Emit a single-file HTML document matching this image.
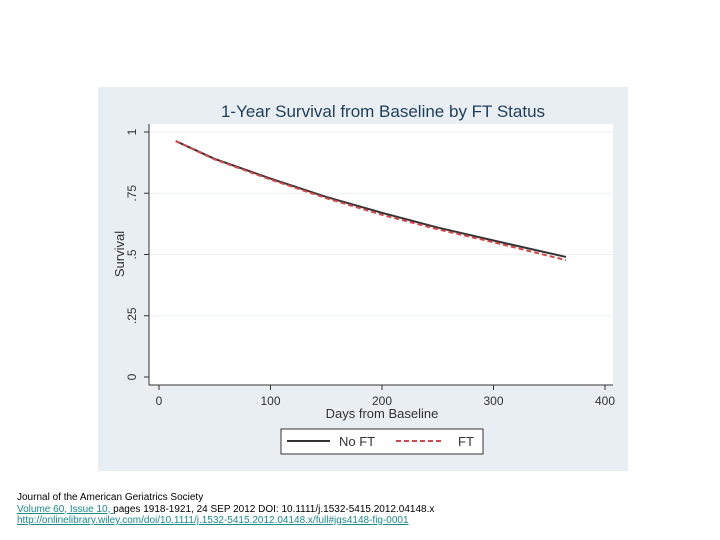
<!DOCTYPE html>
<html><head><meta charset="utf-8">
<style>
body{margin:0;width:720px;height:540px;background:#fff;font-family:"Liberation Sans",sans-serif;position:relative;overflow:hidden}
#cite{position:absolute;left:17px;top:492px;font-size:10px;line-height:11.5px;color:#000}
#cite a{color:#1a8a8a;text-decoration:underline}
</style></head><body>
<svg width="720" height="540" style="position:absolute;left:0;top:0">
<rect x="98" y="87" width="530" height="384" fill="#e9eef3"/>
<rect x="149" y="124" width="464" height="261" fill="#fff"/>
<text x="383" y="117" text-anchor="middle" font-size="17" fill="#1e3f5a">1-Year Survival from Baseline by FT Status</text>
<g id="grid"></g><g id="axes"></g><g id="series"></g>
<text x="124" y="254" transform="rotate(-90 124 254)" text-anchor="middle" font-size="13" fill="#333">Survival</text>
<text x="382" y="418" text-anchor="middle" font-size="13" fill="#333">Days from Baseline</text>
<g>
<rect x="281" y="429" width="202" height="25" fill="#fff" stroke="#333" stroke-width="1"/>
<line x1="287" y1="441" x2="330" y2="441" stroke="#333" stroke-width="2"/>
<text x="339" y="446" font-size="13" fill="#333">No FT</text>
<line x1="396" y1="441" x2="444" y2="441" stroke="#d9464a" stroke-width="2" stroke-dasharray="5,3"/>
<text x="458" y="446" font-size="13" fill="#333">FT</text>
</g>
</svg>
<div id="cite">Journal of the American Geriatrics Society<br><a>Volume 60, Issue 10, </a>pages 1918-1921, 24 SEP 2012 DOI: 10.1111/j.1532-5415.2012.04148.x<br><a>http://onlinelibrary.wiley.com/doi/10.1111/j.1532-5415.2012.04148.x/full#jgs4148-fig-0001</a></div>
<script>
const days=[15,50,100,150,200,250,300,365];
const noFT=[0.963,0.89,0.81,0.735,0.67,0.61,0.557,0.49];
const FT=[0.963,0.888,0.806,0.73,0.662,0.603,0.55,0.477];
const xTicks=[0,100,200,300,400];
const yTicks=[0,0.25,0.5,0.75,1];
const yLabels=["0",".25",".5",".75","1"];
const NS="http://www.w3.org/2000/svg";
const X=d=>159+d*(605-159)/400, Y=v=>377-v*245;
function mk(t,a,p){const e=document.createElementNS(NS,t);for(const k in a)e.setAttribute(k,a[k]);p.appendChild(e);return e;}
const grid=document.getElementById('grid'),axes=document.getElementById('axes'),ser=document.getElementById('series');
mk('line',{x1:149,y1:385,x2:613,y2:385,stroke:'#333'},axes);
mk('line',{x1:149,y1:124,x2:149,y2:385,stroke:'#333'},axes);
yTicks.forEach((v,i)=>{
 if(v>0){const g=mk('line',{x1:149,y1:Y(v),x2:613,y2:Y(v),stroke:'#eef2f5'},grid);
 
 }
 mk('line',{x1:144,y1:Y(v),x2:149,y2:Y(v),stroke:'#333'},axes);
 const t=mk('text',{x:136,y:Y(v),transform:`rotate(-90 136 ${Y(v)})`,'text-anchor':'middle','font-size':12,fill:'#333'},axes);
 t.textContent=yLabels[i];
 
 
});
xTicks.forEach(d=>{
 mk('line',{x1:X(d),y1:385,x2:X(d),y2:390,stroke:'#333'},axes);
 const t=mk('text',{x:X(d),y:405,'text-anchor':'middle','font-size':12,fill:'#333'},axes);
 t.textContent=d;
 
 
});
function path(vals){let s='';for(let i=0;i<days.length;i++){s+=(i?'L':'M')+X(days[i])+','+Y(vals[i]);}return s;}
const p1=mk('path',{d:path(noFT),fill:'none',stroke:'#333','stroke-width':2},ser);


const p2=mk('path',{d:path(FT),fill:'none',stroke:'#d9464a','stroke-width':2,'stroke-dasharray':'5,3'},ser);


</script>
</body></html>
